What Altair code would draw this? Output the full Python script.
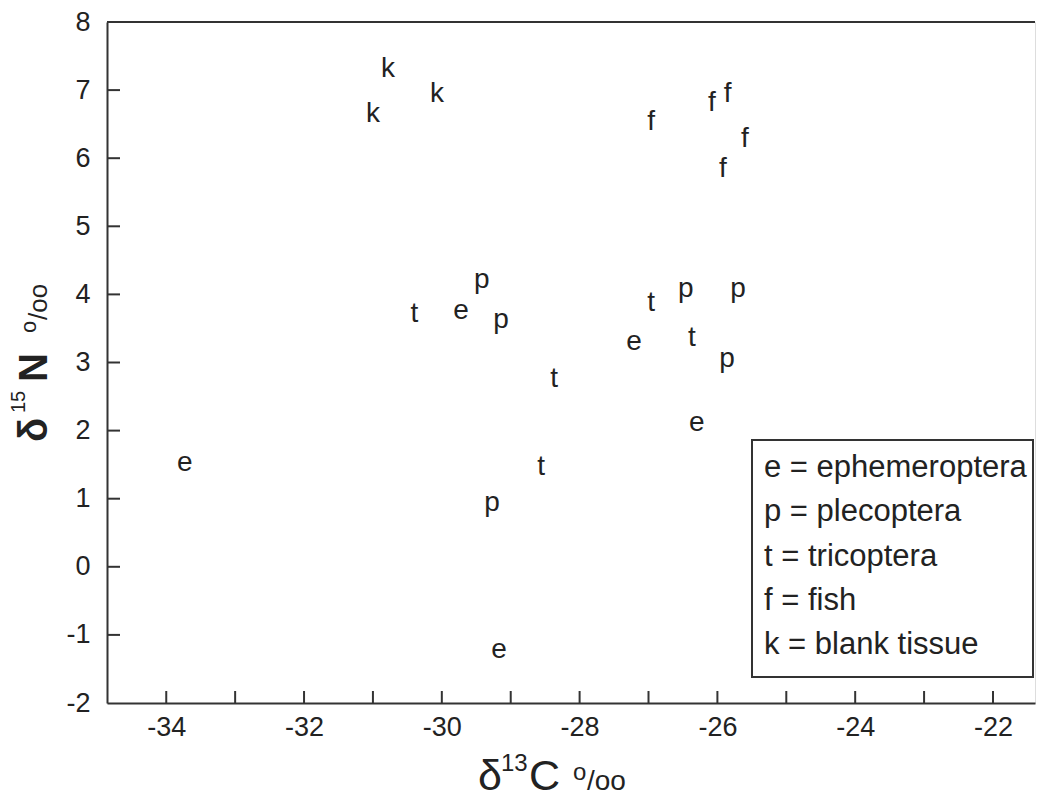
import altair as alt
import pandas as pd

# Data
letters = ["k", "k", "k", "f", "f", "f", "f", "f",
           "p", "p", "p", "p", "p", "p",
           "e", "e", "e", "e", "e",
           "t", "t", "t", "t", "t"]
d13c = [-30.78, -31.00, -30.07, -26.96, -26.08, -25.85, -25.60, -25.92,
        -29.42, -29.14, -26.46, -25.70, -25.86, -29.27,
        -29.72, -27.21, -26.30, -33.73, -29.17,
        -30.40, -26.96, -26.37, -28.37, -28.56]
d15n = [7.31, 6.65, 6.94, 6.53, 6.81, 6.94, 6.28, 5.84,
        4.21, 3.62, 4.08, 4.08, 3.05, 0.94,
        3.76, 3.30, 2.11, 1.52, -1.22,
        3.71, 3.87, 3.36, 2.76, 1.47]

x_tick_values = list(range(-34, -21))
x_label_values = [-34, -32, -30, -28, -26, -24, -22]
y_tick_values = list(range(-1, 8))
y_label_values = list(range(-2, 9))
legend_labels = ["e = ephemeroptera", "p = plecoptera", "t = tricoptera",
                 "f = fish", "k = blank tissue"]

# axis title pieces: (text, font size, weight)
x_title_parts = [("δ", 43, "normal"), ("13", 24, "normal"), ("C", 43, "normal"),
                 ("o", 24, "normal"), ("/oo", 28, "normal")]
y_title_parts = [("δ", 40, "bold"), ("15", 20, "normal"), ("N", 40, "bold"),
                 ("o", 22, "normal"), ("/oo", 26, "normal")]

FONT = "Liberation Sans, Arial, Helvetica, DejaVu Sans"
INK = "#222222"
W, H = 928, 681

xs = alt.Scale(domain=[-34.86, -21.39], nice=False, zero=False)
ys = alt.Scale(domain=[-2, 8], nice=False, zero=False)

df = pd.DataFrame({"d13c": d13c, "d15n": d15n, "letter": letters})

x_axis = alt.Axis(values=x_label_values, ticks=False, tickSize=0, grid=False,
                  domainColor="#333333", domainWidth=2,
                  labelExpr="'' + datum.value",
                  labelFont=FONT, labelFontSize=27, labelColor=INK, labelPadding=11,
                  title="")
y_axis = alt.Axis(values=y_label_values, ticks=False, tickSize=0, grid=False,
                  domainColor="#333333", domainWidth=2,
                  labelExpr="'' + datum.value",
                  labelFont=FONT, labelFontSize=27, labelColor=INK, labelPadding=17,
                  title="")

points = alt.Chart(df).mark_text(font=FONT, fontSize=28, color=INK,
                                 align="center", baseline="middle").encode(
    x=alt.X("d13c:Q", scale=xs, axis=x_axis),
    y=alt.Y("d15n:Q", scale=ys, axis=y_axis),
    text="letter:N",
)

xticks = alt.Chart(pd.DataFrame({"d13c": x_tick_values})).mark_rule(
    color="#333333", strokeWidth=2).encode(
    x=alt.X("d13c:Q", scale=xs),
    y=alt.value(H), y2=alt.value(H - 12),
)
yticks = alt.Chart(pd.DataFrame({"d15n": y_tick_values})).mark_rule(
    color="#333333", strokeWidth=2).encode(
    y=alt.Y("d15n:Q", scale=ys),
    x=alt.value(0), x2=alt.value(13),
)

one = pd.DataFrame({"a": [0]})
top_line = alt.Chart(one).mark_rule(color="#333333", strokeWidth=2).encode(
    x=alt.value(0), x2=alt.value(W), y=alt.value(0))

legend_box = alt.Chart(one).mark_rect(fill="white", stroke="#333333",
                                      strokeWidth=2).encode(
    x=alt.value(645), x2=alt.value(926), y=alt.value(418), y2=alt.value(655))

legend_texts = []
for i, lab in enumerate(legend_labels):
    legend_texts.append(
        alt.Chart(pd.DataFrame({"label": [lab]})).mark_text(
            font=FONT, fontSize=31, color=INK, align="left", baseline="middle"
        ).encode(x=alt.value(657), y=alt.value(446 + i * 44.3), text="label:N")
    )

# x-axis title pieces (positions of each piece of the composed title)
x_pos = [(371, 768), (394, 749), (422, 768), (466, 758), (480, 768)]
title_marks = []
for (txt, fs, fw), (px, py) in zip(x_title_parts, x_pos):
    title_marks.append(
        alt.Chart(pd.DataFrame({"t": [txt]})).mark_text(
            font=FONT, fontSize=fs, fontWeight=fw, color=INK,
            align="left", baseline="alphabetic"
        ).encode(x=alt.value(px), y=alt.value(py), text="t:N")
    )
# y-axis title pieces (rotated)
y_pos = [(-60, 420), (-82, 391), (-60, 360), (-71, 311), (-60, 298)]
for (txt, fs, fw), (px, py) in zip(y_title_parts, y_pos):
    title_marks.append(
        alt.Chart(pd.DataFrame({"t": [txt]})).mark_text(
            font=FONT, fontSize=fs, fontWeight=fw, color=INK, angle=270,
            align="left", baseline="alphabetic"
        ).encode(x=alt.value(px), y=alt.value(py), text="t:N")
    )

chart = alt.layer(points, xticks, yticks, top_line, legend_box,
                  *legend_texts, *title_marks).properties(
    width=W, height=H,
    autosize=alt.AutoSizeParams(type="none"),
    padding={"left": 99, "top": 14, "right": 2, "bottom": 97},
).configure_view(strokeWidth=0).configure(background="white")

chart.save("out.html", embed_options={"renderer": "svg", "actions": False})
